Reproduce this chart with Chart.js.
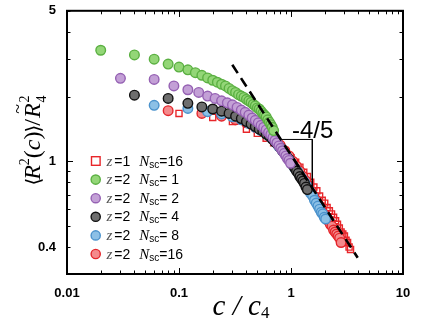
<!DOCTYPE html>
<html>
<head>
<meta charset="utf-8">
<script src="https://cdn.jsdelivr.net/npm/chart.js@4.4.0/dist/chart.umd.min.js"></script>
<style>
  html, body { margin: 0; padding: 0; background: #fff; }
  #wrap { width: 430px; height: 323px; position: relative; }
</style>
</head>
<body>
<div id="wrap"><canvas id="chart"></canvas></div>
<script>
// z=1, Nsc=16 (open squares)
const cSq16 = [0.1,0.2,0.3,0.4,0.5,0.6,0.7,0.8,0.9,1.0,1.1,1.2,1.3,1.4,1.5,1.6,1.7,1.8,1.9,2.0,2.1,2.2,2.3,2.4,2.5,2.6,2.7,2.8,2.9,3.0,3.1,3.2,3.3,3.4];
const ySq16 = [1.67,1.60,1.53,1.41,1.35,1.28,1.22,1.16,1.10,1.04,0.99,0.94,0.89,0.85,0.80,0.76,0.73,0.69,0.66,0.64,0.61,0.59,0.57,0.55,0.53,0.51,0.49,0.47,0.46,0.45,0.43,0.42,0.40,0.39];
// z=2, Nsc=1
const cN1 = [0.02,0.04,0.06,0.08,0.10,0.12,0.14,0.16,0.18,0.20,0.22,0.24,0.26,0.28,0.30,0.32,0.34,0.36,0.38,0.40,0.42,0.44,0.46,0.48,0.50,0.52,0.54,0.56,0.58,0.60,0.62,0.64,0.66,0.68,0.70];
const yN1 = [3.28,3.12,2.98,2.83,2.74,2.66,2.58,2.51,2.44,2.38,2.33,2.28,2.24,2.18,2.13,2.09,2.04,2.01,1.98,1.94,1.91,1.88,1.84,1.81,1.77,1.75,1.71,1.67,1.64,1.61,1.56,1.52,1.48,1.44,1.39];
// z=2, Nsc=2
const cN2 = [0.03,0.06,0.09,0.12,0.15,0.18,0.21,0.24,0.27,0.30,0.33,0.36,0.39,0.42,0.45,0.48,0.51,0.54,0.57,0.60,0.63,0.66,0.69,0.72,0.75,0.78,0.81,0.84,0.87,0.90,0.93,0.96,0.99];
const yN2 = [2.43,2.40,2.24,2.15,2.09,2.01,1.96,1.91,1.87,1.83,1.78,1.73,1.69,1.64,1.59,1.55,1.51,1.47,1.44,1.40,1.36,1.33,1.29,1.25,1.22,1.18,1.15,1.12,1.09,1.06,1.03,1.01,0.98];
// z=2, Nsc=4
const cN4 = [0.04,0.08,0.12,0.16,0.20,0.24,0.28,0.32,0.36,0.40,0.44,0.48,0.52,0.56,0.60,0.64,0.68,0.72,0.76,0.80,0.84,0.88,0.92,0.96,1.00,1.04,1.08,1.12,1.16,1.20,1.24,1.28,1.32,1.36,1.40];
const yN4 = [2.03,1.96,1.86,1.79,1.75,1.71,1.67,1.62,1.58,1.53,1.49,1.45,1.41,1.38,1.34,1.31,1.27,1.23,1.20,1.16,1.12,1.09,1.05,1.02,0.99,0.96,0.93,0.90,0.88,0.85,0.83,0.81,0.79,0.76,0.74];
// z=2, Nsc=8
const cN8 = [0.06,0.12,0.18,0.24,0.30,0.36,0.42,0.48,0.54,0.60,0.66,0.72,0.78,0.84,0.90,0.96,1.02,1.08,1.14,1.20,1.26,1.32,1.38,1.44,1.50,1.56,1.62,1.68,1.74,1.80,1.86,1.92,1.98,2.04];
const yN8 = [1.82,1.76,1.70,1.66,1.61,1.56,1.50,1.44,1.39,1.34,1.29,1.23,1.17,1.12,1.07,1.02,0.97,0.93,0.90,0.86,0.83,0.80,0.77,0.74,0.71,0.69,0.66,0.64,0.62,0.60,0.58,0.57,0.55,0.54];
// z=2, Nsc=16
const cN16 = [0.08,0.16,0.24,0.32,0.40,0.48,0.56,0.64,0.72,0.80,0.88,0.96,1.04,1.12,1.20,1.28,1.36,1.44,1.52,1.60,1.68,1.76,1.84,1.92,2.00,2.08,2.16,2.24,2.32,2.40,2.48,2.56,2.64,2.72,2.80];
const yN16 = [1.72,1.67,1.62,1.56,1.51,1.44,1.39,1.32,1.25,1.19,1.12,1.06,1.00,0.95,0.90,0.85,0.81,0.77,0.73,0.69,0.66,0.63,0.61,0.58,0.56,0.55,0.53,0.51,0.50,0.48,0.47,0.46,0.45,0.44,0.42];

// slope -4/5 guide line and its triangle
const slopeLineX = [0.299, 3.94];
const slopeLineY = [2.81, 0.357];
const triangleX = [0.812, 1.55, 1.55];
const triangleY = [1.264, 1.264, 0.753];

const xTickLabels = [0.01, 0.1, 1, 10];
const yTickLabels = [0.4, 1, 5];

const legendZ = ['1', '2', '2', '2', '2', '2'];
const legendN = ['16', ' 1', ' 2', ' 4', ' 8', '16'];

const sans = '"Liberation Sans", Arial, sans-serif';
const serif = '"Liberation Serif", "Times New Roman", serif';

const styles = [
  { fill: 'rgba(255,255,255,0)', stroke: '#e8262a', shape: 'rect' },
  { fill: '#93d677', stroke: '#5bb042', shape: 'circle' },
  { fill: '#c3a0d6', stroke: '#9561b3', shape: 'circle' },
  { fill: '#6e6e6e', stroke: '#111111', shape: 'circle' },
  { fill: '#8cc0e6', stroke: '#4b92cc', shape: 'circle' },
  { fill: '#f48a8c', stroke: '#e4262c', shape: 'circle' }
];

function pts(xs, ys) {
  return xs.map((x, i) => ({ x: x, y: ys[i] }));
}

function series(xs, ys, st, order) {
  return {
    data: pts(xs, ys),
    showLine: false,
    pointStyle: st.shape,
    pointRadius: st.shape === 'rect' ? 4.3 : 4.8,
    pointBackgroundColor: st.fill,
    pointBorderColor: st.stroke,
    pointBorderWidth: 1.4,
    order: order
  };
}

function drawRun(ctx, x, y, parts) {
  parts.forEach(p => {
    ctx.font = p.font;
    ctx.fillStyle = p.color || '#000';
    ctx.fillText(p.t, x, y + (p.dy || 0));
    x += ctx.measureText(p.t).width + (p.gap || 0);
  });
  return x;
}

function runWidth(ctx, parts) {
  let w = 0;
  parts.forEach(p => {
    ctx.font = p.font;
    w += ctx.measureText(p.t).width + (p.gap || 0);
  });
  return w;
}

const decorations = {
  id: 'decorations',
  afterDraw(chart) {
    const ctx = chart.ctx;
    const area = chart.chartArea;
    const xs = chart.scales.x;
    const ys = chart.scales.y;
    ctx.save();

    // frame
    ctx.strokeStyle = '#000';
    ctx.lineWidth = 2;
    ctx.strokeRect(area.left, area.top, area.right - area.left, area.bottom - area.top);

    // inward ticks on all four sides
    ctx.lineWidth = 1;
    ctx.beginPath();
    for (let e = -2; e <= 0; e++) {
      for (let m = 1; m <= 10; m++) {
        const v = m * Math.pow(10, e);
        const px = Math.round(xs.getPixelForValue(v)) + 0.5;
        const len = (m === 1 || m === 10) ? 6 : 3.5;
        ctx.moveTo(px, area.bottom); ctx.lineTo(px, area.bottom - len);
        ctx.moveTo(px, area.top); ctx.lineTo(px, area.top + len);
      }
    }
    for (let e = -1; e <= 0; e++) {
      for (let m = 1; m <= 9; m++) {
        const v = m * Math.pow(10, e);
        if (v < ys.min || v > ys.max) continue;
        const py = Math.round(ys.getPixelForValue(v)) + 0.5;
        const len = (m === 1) ? 6 : 3.5;
        ctx.moveTo(area.left, py); ctx.lineTo(area.left + len, py);
        ctx.moveTo(area.right, py); ctx.lineTo(area.right - len, py);
      }
    }
    ctx.stroke();

    // slope label
    ctx.textBaseline = 'alphabetic';
    ctx.textAlign = 'left';
    ctx.font = '24px ' + sans;
    ctx.fillStyle = '#000';
    ctx.fillText('-4/5', xs.getPixelForValue(1.02), ys.getPixelForValue(1.29));

    // legend
    for (let i = 0; i < legendZ.length; i++) {
      const cy = 161 + i * 18.6;
      const st = styles[i];
      ctx.lineWidth = 1.4;
      ctx.strokeStyle = st.stroke;
      ctx.fillStyle = st.fill;
      if (st.shape === 'rect') {
        ctx.strokeRect(91.5, cy - 4.3, 8.6, 8.6);
      } else {
        ctx.beginPath();
        ctx.arc(95.7, cy, 4.6, 0, Math.PI * 2);
        ctx.fill();
        ctx.stroke();
      }
      drawRun(ctx, 106.5, cy + 4.5, [
        { t: 'z', font: 'italic 15px ' + serif, color: '#555', gap: 2 },
        { t: '=' + legendZ[i], font: '14px ' + sans, gap: 9 },
        { t: 'N', font: 'italic 15px ' + serif },
        { t: 'sc', font: '10px ' + sans, dy: 2 },
        { t: '=' + legendN[i], font: '14px ' + sans }
      ]);
    }

    // x axis title
    const xParts = [
      { t: 'c', font: 'italic 29px ' + serif },
      { t: ' / ', font: 'italic 29px ' + serif },
      { t: 'c', font: 'italic 29px ' + serif },
      { t: '4', font: '17px ' + serif, dy: 3 }
    ];
    drawRun(ctx, 241 - runWidth(ctx, xParts) / 2, 315, xParts);

    // y axis title, rotated
    ctx.translate(40, 141);
    ctx.rotate(-Math.PI / 2);
    const big = '24px ' + serif;
    const bigI = 'italic 24px ' + serif;
    const brk = '20px "DejaVu Serif", serif';
    const small = '14px ' + serif;
    const yParts = [
      { t: '\u27E8', font: brk, gap: -2 },
      { t: 'R', font: bigI },
      { t: '2', font: small, dy: -11 },
      { t: '(', font: big },
      { t: 'c', font: bigI },
      { t: ')', font: big, gap: -1 },
      { t: '\u27E9', font: brk, gap: -1 },
      { t: '/', font: big, gap: 1 },
      { t: 'R', font: bigI }
    ];
    ctx.font = small;
    const supW = ctx.measureText('2').width;
    const total = runWidth(ctx, yParts) + supW;
    const endX = drawRun(ctx, -total / 2, 0, yParts);
    ctx.font = bigI;
    const rW = ctx.measureText('R').width;
    ctx.font = '18px ' + serif;
    ctx.fillText('~', endX - rW / 2 - 3, -16);
    ctx.font = small;
    ctx.fillText('2', endX + 1, -11);
    ctx.fillText('4', endX + 1, 6);

    ctx.restore();
  }
};

const ctx = document.getElementById('chart').getContext('2d');
new Chart(ctx, {
  type: 'scatter',
  data: {
    datasets: [
      {
        type: 'line',
        data: pts(slopeLineX, slopeLineY),
        borderColor: '#000',
        borderWidth: 2.6,
        borderDash: [10, 6],
        pointRadius: 0,
        fill: false,
        order: 0
      },
      {
        type: 'line',
        data: pts(triangleX, triangleY),
        borderColor: '#000',
        borderWidth: 1,
        pointRadius: 0,
        fill: false,
        order: 0
      },
      series(cN1, yN1, styles[1], 1),
      series(cN2, yN2, styles[2], 2),
      series(cN4, yN4, styles[3], 3),
      series(cN8, yN8, styles[4], 4),
      series(cN16, yN16, styles[5], 5),
      series(cSq16, ySq16, styles[0], 6)
    ]
  },
  options: {
    responsive: true,
    maintainAspectRatio: false,
    animation: false,
    layout: { padding: { left: 0, right: 27, top: 8, bottom: 0 } },
    plugins: {
      legend: { display: false },
      tooltip: { enabled: false }
    },
    scales: {
      x: {
        type: 'logarithmic',
        min: 0.01,
        max: 10,
        grid: { display: false },
        border: { display: false },
        afterBuildTicks: scale => { scale.ticks = xTickLabels.map(v => ({ value: v })); },
        afterFit: scale => { scale.height = 49; },
        ticks: {
          autoSkip: false,
          maxRotation: 0,
          padding: 4,
          color: '#000',
          font: { family: sans, size: 13, weight: 'bold' },
          callback: v => String(v)
        }
      },
      y: {
        type: 'logarithmic',
        min: 0.3,
        max: 5,
        grid: { display: false },
        border: { display: false },
        afterBuildTicks: scale => { scale.ticks = yTickLabels.map(v => ({ value: v })); },
        afterFit: scale => { scale.width = 67; },
        ticks: {
          autoSkip: false,
          padding: 3,
          color: '#000',
          font: { family: sans, size: 13, weight: 'bold' },
          callback: v => String(v)
        }
      }
    }
  },
  plugins: [decorations]
});
</script>
</body>
</html>
